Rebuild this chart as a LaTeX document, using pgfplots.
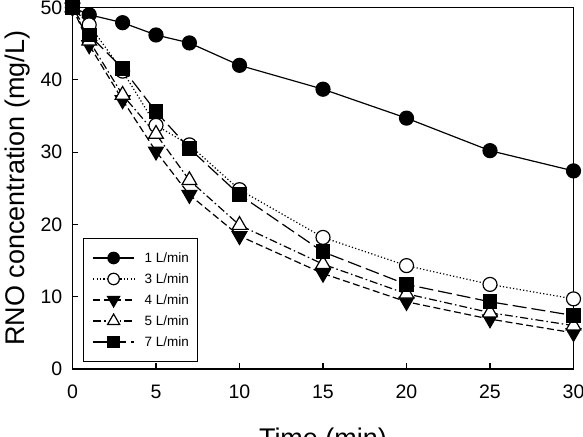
\documentclass[border=0pt]{standalone}
\usepackage{pgfplots}
\pgfplotsset{compat=1.18}
\usepackage{fontspec}
\setmainfont{Liberation Sans}

\begin{document}
\begin{tikzpicture}
\begin{axis}[
  name=ax,
  scale only axis,
  width=501bp, height=361.5bp,
  xmin=0, xmax=30, ymin=0, ymax=50,
  xtick={0,5,...,30}, ytick={0,10,...,50},
  tick pos=left, tick align=inside,
  major tick length=6bp,
  axis line style={line width=1.3bp},
  every tick/.style={black, line width=1.1bp},
  /pgf/number format/assume math mode=true,
  ticklabel style={font=\fontsize{19.5bp}{21bp}\selectfont},
  xticklabel style={anchor=base, inner sep=0pt, yshift=-29.5bp},
  yticklabel style={anchor=east, inner sep=0pt, xshift=-10bp},
  xlabel={Time (min)},
  ylabel={RNO concentration (mg/L)},
  label style={font=\fontsize{27bp}{30bp}\selectfont},
  xlabel style={at={(axis description cs:0.5,-0.2185)}, anchor=base, inner sep=0pt},
  ylabel style={at={(axis description cs:-0.0949,0.5)}, anchor=base, inner sep=0pt},
  clip=false,
  legend cell align=left,
  legend style={
    at={(axis description cs:0.021,0.0194)}, anchor=south west,
    draw=black, line width=1bp,
    inner xsep=9bp, inner ysep=9bp,
    font=\fontsize{13.5bp}{15bp}\selectfont,
    nodes={minimum height=21bp, inner sep=0pt},
    column sep=10bp, row sep=0pt,
  },
  legend image code/.code={%
    \draw[mark repeat=2, mark phase=2, #1]
      plot coordinates {(0bp,0bp) (20.5bp,0bp) (41bp,0bp)};},
  legend image post style={every mark/.append style={scale=0.82}},
]
% 1 L/min
\addplot[black, line width=1.2bp, mark=*, mark size=7bp,
  mark options={solid, fill=black}]
  coordinates {(0,50) (1,49) (3,47.9) (5,46.2) (7,45.1) (10,42)
               (15,38.7) (20,34.7) (25,30.2) (30,27.4)};
\addlegendentry{1 L/min}
% 3 L/min
\addplot[black, line width=1.2bp, dash pattern=on 1.2bp off 2.2bp,
  mark=*, mark size=7bp, mark options={solid, fill=white}]
  coordinates {(0,50) (1,47.6) (3,41.2) (5,33.7) (7,31) (10,24.8)
               (15,18.2) (20,14.3) (25,11.7) (30,9.7)};
\addlegendentry{3 L/min}
% 4 L/min
\addplot[black, line width=1.2bp, dash pattern=on 7bp off 3.5bp,
  mark=triangle*, mark size=8.5bp,
  mark options={solid, fill=black, rotate=180}]
  coordinates {(0,50) (1,44.8) (3,37.2) (5,30.1) (7,24.1) (10,18.4)
               (15,13.2) (20,9.3) (25,6.9) (30,5.0)};
\addlegendentry{4 L/min}
% 5 L/min
\addplot[black, line width=1.2bp,
  dash pattern=on 8bp off 3bp on 1.5bp off 3bp,
  mark=triangle*, mark size=8.5bp, mark options={solid, fill=white}]
  coordinates {(0,50) (1,45.4) (3,37.9) (5,32.5) (7,26.1) (10,19.9)
               (15,14.5) (20,10.4) (25,7.8) (30,6.0)};
\addlegendentry{5 L/min}
% 7 L/min
\addplot[black, line width=1.2bp, dash pattern=on 14bp off 5bp,
  mark=square*, mark size=6.8bp, mark options={solid, fill=black}]
  coordinates {(0,50) (1,46.2) (3,41.6) (5,35.6) (7,30.5) (10,24.1)
               (15,16.2) (20,11.7) (25,9.3) (30,7.4)};
\addlegendentry{7 L/min}
\end{axis}
\pgfresetboundingbox
\path[use as bounding box] ([xshift=-72.5bp,yshift=-68bp]ax.south west)
  rectangle ([xshift=9.5bp,yshift=7.5bp]ax.north east);
\end{tikzpicture}
\end{document}
